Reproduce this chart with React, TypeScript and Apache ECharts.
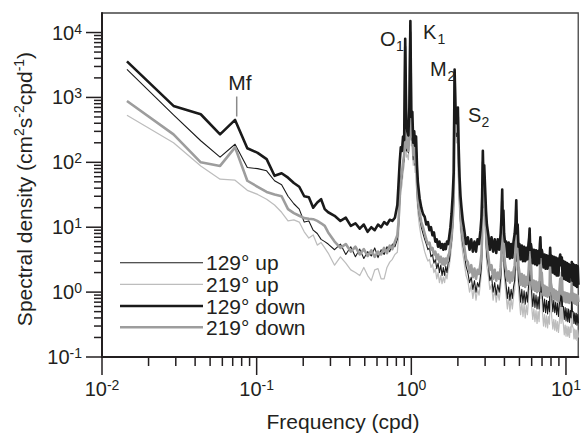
import React, { useEffect, useRef } from "react";
import * as echarts from "echarts";

// Frequency grid (cpd)
const freq = [
  0.0145, 0.029, 0.0435, 0.058, 0.0725, 0.087, 0.1015, 0.116, 0.1305, 0.145, 0.1595, 0.174, 0.1885, 0.203, 0.2175, 0.232, 0.2465, 0.261, 0.2755, 0.29,
  0.319, 0.348, 0.377, 0.406, 0.435, 0.464, 0.493, 0.522, 0.551, 0.58, 0.609, 0.638, 0.667, 0.696, 0.725, 0.754, 0.783, 0.812,
  0.826, 0.841, 0.855, 0.87, 0.884, 0.899, 0.913, 0.928, 0.942, 0.957, 0.971, 0.986, 1.0, 1.015, 1.029, 1.044, 1.058, 1.073, 1.088, 1.102,
  1.131, 1.16, 1.19, 1.22, 1.25, 1.28, 1.31, 1.34, 1.37, 1.4, 1.43, 1.46, 1.49, 1.52, 1.55, 1.58, 1.61, 1.64, 1.67, 1.7, 1.73, 1.76, 1.79, 1.82, 1.85, 1.88, 1.905,
  1.932, 1.96, 1.975, 2.0, 2.02, 2.05, 2.08, 2.11, 2.15,
  2.2, 2.26, 2.32, 2.38, 2.44, 2.5, 2.56, 2.62, 2.68, 2.74, 2.8, 2.84, 2.87,
  2.9, 2.93, 2.96, 3.0, 3.04, 3.08,
  3.15, 3.22, 3.3, 3.38, 3.46, 3.54, 3.62, 3.7, 3.78, 3.82,
  3.87, 3.9, 3.94, 3.98, 4.03,
  4.1, 4.18, 4.26, 4.34, 4.42, 4.5, 4.58, 4.66, 4.72,
  4.77, 4.82, 4.87, 4.93,
  5.0, 5.09, 5.18, 5.27, 5.36, 5.45, 5.54, 5.63, 5.72, 5.78,
  5.82, 5.87, 5.93,
  6.0, 6.1, 6.2, 6.3, 6.4, 6.5, 6.6, 6.7, 6.78,
  6.83, 6.9, 6.97,
  7.05, 7.16, 7.27, 7.38, 7.49, 7.6, 7.71, 7.82,
  7.9, 7.98,
  8.1, 8.22, 8.34, 8.46, 8.58, 8.7, 8.82, 8.94, 9.06, 9.18, 9.3,
  9.4, 9.5,
  9.62, 9.75, 9.88, 10.01, 10.14, 10.27, 10.4, 10.53, 10.66, 10.79,
  10.9, 11.0,
  11.13, 11.26, 11.39, 11.52, 11.65, 11.78, 11.91, 12.04,
];

// 129° up (thin black)
const up129 = [
  2700, 540, 215, 120, 190, 83, 80, 74, 52, 45, 30, 23, 19, 12, 12.5, 9, 8, 6.5, 6, 5.5,
  4.5, 5.5, 3.8, 5, 3.5, 4.6, 3.3, 4.2, 3.6, 4.8, 3.4, 4.5, 3.8, 5, 4.2, 5.5, 5, 6.5,
  10, 25, 45, 60, 90, 110, 5000, 150, 160, 140, 300, 9000, 220, 250, 110, 160, 90, 120, 40, 22,
  14, 10, 8, 6.5, 5.5, 4.5, 4.8, 3.5, 3.8, 2.8, 3.2, 2.3, 2.8, 2, 2.6, 1.8, 2.4, 1.8, 2.5, 2, 2.8, 3, 4.5, 6, 10, 25, 2000,
  400, 250, 300, 400, 80, 25, 12, 8, 5.5,
  4, 2.5, 2, 1.4, 1.7, 1.1, 1.5, 1.0, 1.4, 1.2, 1.8, 2.5, 5,
  80, 20, 40, 15, 6, 3.5,
  2.5, 1.5, 1.8, 1.0, 1.4, 0.9, 1.3, 1.0, 1.6, 2.5,
  18, 4, 7, 2.5, 1.8,
  1.3, 0.8, 1.2, 0.75, 1.1, 0.8, 1.2, 1.5, 3,
  14, 3, 4, 1.5,
  1.2, 0.7, 1.1, 0.68, 1.05, 0.65, 1.0, 0.7, 1.2, 1.8,
  5, 1.5, 1.8,
  1.0, 0.6, 0.95, 0.58, 0.9, 0.55, 0.85, 0.55, 1.1,
  3.5, 1.0, 1.2,
  0.8, 0.5, 0.78, 0.48, 0.75, 0.46, 0.72, 0.5,
  2.5, 1.0,
  0.8, 0.5, 0.75, 0.48, 0.7, 0.45, 0.68, 0.42, 0.65, 1.0, 0.6,
  1.4, 0.6,
  0.6, 0.38, 0.58, 0.36, 0.56, 0.35, 0.55, 0.34, 0.52, 0.4,
  1.0, 0.5,
  0.5, 0.33, 0.48, 0.32, 0.47, 0.31, 0.45, 0.33,
];

// 219° up (thin light gray)
const up219 = [
  530, 200, 88, 55, 53, 37, 32, 27, 22, 17, 12.5, 13, 12, 8.5, 6.8, 7.6, 5.3, 5.8, 4.8, 4,
  2.6, 3.5, 2.8, 2.2, 2.0, 1.8, 2.4, 1.8, 1.5, 2.2, 2.3, 1.6, 1.6, 2.4, 2.9, 3.2, 3.8, 4.1,
  7, 18, 35, 45, 70, 90, 4000, 120, 130, 110, 250, 8000, 180, 200, 90, 130, 70, 90, 30, 17,
  10, 7, 5.5, 4.2, 3.5, 3, 3.2, 2.4, 2.7, 2, 2.3, 1.6, 2, 1.4, 1.8, 1.35, 1.7, 1.4, 1.9, 1.6, 2.2, 2.5, 3.5, 5, 8, 18, 1500,
  300, 200, 250, 300, 60, 18, 9, 6, 4,
  2.8, 1.8, 1.5, 1.0, 1.3, 0.8, 1.2, 0.75, 1.1, 0.9, 1.4, 2, 4,
  60, 15, 30, 10, 4.5, 2.5,
  1.8, 1.1, 1.3, 0.75, 1.1, 0.7, 1.0, 0.75, 1.2, 1.8,
  12, 3, 5, 2, 1.3,
  0.9, 0.55, 0.85, 0.5, 0.8, 0.55, 0.85, 1.1, 2.2,
  9, 2.2, 3, 1.1,
  0.75, 0.45, 0.7, 0.42, 0.65, 0.4, 0.62, 0.45, 0.75, 1.2,
  3.5, 1.1, 1.3,
  0.6, 0.38, 0.55, 0.35, 0.52, 0.33, 0.5, 0.35, 0.7,
  2.5, 0.8, 0.9,
  0.48, 0.3, 0.45, 0.29, 0.43, 0.28, 0.42, 0.32,
  1.6, 0.6,
  0.4, 0.27, 0.38, 0.26, 0.37, 0.25, 0.35, 0.24, 0.34, 0.6, 0.33,
  1.0, 0.38,
  0.32, 0.22, 0.31, 0.21, 0.3, 0.21, 0.29, 0.2, 0.29, 0.24,
  0.7, 0.3,
  0.28, 0.19, 0.27, 0.19, 0.26, 0.18, 0.26, 0.2,
];

// 129° down (thick black)
const down129 = [
  3600, 740, 550, 270, 450, 165, 140, 112, 62, 68, 58, 48, 42, 30, 29, 20, 24, 27, 19, 17,
  15, 12.5, 14, 10.5, 11.5, 9.5, 11, 8.5, 10, 9, 11, 10, 12, 11, 13, 12.5, 14, 22,
  45, 100, 170, 150, 250, 220, 8000, 400, 300, 260, 700, 15000, 500, 600, 200, 300, 180, 250, 90, 50,
  28, 20, 16, 14.5, 11, 12, 9, 10, 7.5, 8.3, 6, 6.5, 5, 6, 4.8, 5.5, 4.5, 5.5, 4.6, 6, 5.5, 7.3, 10, 16, 30, 70, 2700,
  600, 400, 500, 700, 200, 60, 30, 20, 13,
  9, 5.5, 7, 4.5, 6.5, 4.2, 6, 4.2, 6.5, 5.5, 9, 14, 30,
  150, 50, 90, 40, 18, 11,
  7.5, 4.5, 7, 4.2, 6.5, 4, 6.5, 4.5, 8, 13,
  38, 11, 18, 8, 6,
  6, 3.5, 5.8, 3.3, 5.5, 3.4, 6, 8, 12,
  26, 8, 11, 5,
  5.5, 3.2, 5.2, 3, 5, 3, 4.8, 3.2, 5.5, 7,
  9.5, 4.5, 5.5,
  4.6, 2.8, 4.5, 2.7, 4.4, 2.6, 4.3, 2.8, 5.5,
  7, 3.5, 4.5,
  3.9, 2.4, 3.8, 2.3, 3.7, 2.3, 3.6, 2.6,
  4.8, 2.6,
  3.6, 2.0, 3.5, 1.9, 3.4, 1.8, 3.3, 1.8, 3.2, 3.8, 2.6,
  3.4, 1.8,
  3.0, 1.6, 2.9, 1.55, 2.8, 1.5, 2.7, 1.45, 2.6, 1.8,
  2.9, 1.5,
  2.7, 1.3, 2.6, 1.25, 2.6, 1.2, 2.5, 1.3,
];

// 219° down (thick gray)
const down219 = [
  880, 270, 100, 88, 170, 52, 42, 35, 32, 30, 19, 16.5, 15, 13.8, 13.5, 13.3, 12.5, 11.5, 10.5, 8.3,
  6, 4.8, 5.5, 4.2, 5, 3.8, 4.6, 3.6, 4.4, 3.5, 4.2, 3.8, 4.8, 4, 5.2, 4.6, 6, 7.5,
  12, 30, 55, 70, 100, 130, 6000, 170, 180, 150, 350, 10000, 250, 280, 130, 180, 100, 140, 45, 27,
  17, 12, 10, 8, 6.5, 5.5, 5.8, 4.5, 4.8, 3.8, 4.2, 3.2, 3.8, 2.9, 3.5, 2.7, 3.3, 2.6, 3.3, 2.8, 3.6, 4, 5.5, 7.5, 12, 30, 2200,
  450, 300, 380, 500, 100, 35, 16, 10, 7,
  5, 3.2, 2.9, 2.0, 2.6, 1.7, 2.3, 1.6, 2.2, 1.9, 2.8, 3.8, 7,
  100, 30, 60, 22, 9, 5,
  3.5, 2.2, 2.6, 1.6, 2.2, 1.5, 2.0, 1.6, 2.4, 3.5,
  25, 6, 10, 4, 2.8,
  2.2, 1.5, 2.1, 1.4, 2.0, 1.5, 2.1, 2.6, 4.5,
  18, 4.5, 6, 2.5,
  2, 1.3, 1.9, 1.25, 1.8, 1.2, 1.7, 1.3, 2, 3,
  7, 2.5, 3,
  1.6, 1.1, 1.5, 1.05, 1.45, 1.0, 1.4, 1.05, 1.8,
  5, 1.8, 2,
  1.3, 0.9, 1.25, 0.88, 1.2, 0.85, 1.15, 0.9,
  3.2, 1.4,
  1.15, 0.8, 1.1, 0.78, 1.05, 0.75, 1.0, 0.72, 1.0, 1.6, 0.95,
  2, 0.9,
  1.0, 0.72, 0.98, 0.7, 0.96, 0.7, 0.94, 0.68, 0.92, 0.75,
  1.5, 0.75,
  0.95, 0.68, 0.92, 0.66, 0.9, 0.64, 0.88, 0.7,
];

const seriesNames = ["129° up", "219° up", "129° down", "219° down"];
const xMajorTicks = [0.01, 0.1, 1, 10];
const xMinorTicks = [0.02, 0.03, 0.04, 0.05, 0.06, 0.07, 0.08, 0.09, 0.2, 0.3, 0.4, 0.5, 0.6, 0.7, 0.8, 0.9, 2, 3, 4, 5, 6, 7, 8, 9];
const yMajorTicks = [0.1, 1, 10, 100, 1000, 10000];
const yMinorTicks = [
  0.2, 0.3, 0.4, 0.5, 0.6, 0.7, 0.8, 0.9, 2, 3, 4, 5, 6, 7, 8, 9,
  20, 30, 40, 50, 60, 70, 80, 90, 200, 300, 400, 500, 600, 700, 800, 900,
  2000, 3000, 4000, 5000, 6000, 7000, 8000, 9000,
];
const peakNames = [
  { base: "O", sub: "1" },
  { base: "K", sub: "1" },
  { base: "M", sub: "2" },
  { base: "S", sub: "2" },
];
const xTitle = "Frequency (cpd)";

const FONT = '"Liberation Sans", Arial, Helvetica, sans-serif';
const INK = "#231f20";

const seriesStyle: Record<string, { color: string; width: number }> = {
  "129° up": { color: "#1a1a1a", width: 1.1 },
  "219° up": { color: "#bdbdbd", width: 1.25 },
  "129° down": { color: "#1a1a1a", width: 2.6 },
  "219° down": { color: "#9d9d9d", width: 2.6 },
};
const seriesValues: Record<string, number[]> = {
  "129° up": up129,
  "219° up": up219,
  "129° down": down129,
  "219° down": down219,
};

function pairs(vals: number[]) {
  const out: number[][] = [];
  const n = Math.min(freq.length, vals.length);
  for (let i = 0; i < n; i++) out.push([freq[i], vals[i]]);
  return out;
}

function txt(x: number, y: number, text: string, size: number, align = "left", color = INK) {
  return {
    type: "text",
    x,
    y,
    silent: true,
    z: 100,
    style: {
      text,
      fill: color,
      fontSize: size,
      fontFamily: FONT,
      align,
      textAlign: align,
      verticalAlign: "middle",
      textVerticalAlign: "middle",
    },
  };
}

export default function App() {
  const ref = useRef<HTMLDivElement>(null);
  useEffect(() => {
    if (!ref.current) return;
    const chart = echarts.init(ref.current, null, { renderer: "svg" });

    const labelFmt = (v: number) => {
      const e = Math.log10(v);
      const r = Math.round(e);
      if (Math.abs(e - r) > 1e-6) return "";
      return `{b|10}{s|${r}}`;
    };
    const labelRich = {
      b: { fontSize: 20, lineHeight: 22, color: INK, fontFamily: FONT },
      s: { fontSize: 14, lineHeight: 10, verticalAlign: "top", color: INK, fontFamily: FONT },
    };

    const tickData = [
      ...xMajorTicks.map((v) => [v, 0.1, 0, 1]),
      ...xMinorTicks.map((v) => [v, 0.1, 0, 0]),
      ...yMajorTicks.map((v) => [0.01, v, 1, 1]),
      ...yMinorTicks.map((v) => [0.01, v, 1, 0]),
    ];

    const drawOrder = ["219° up", "129° up", "219° down", "129° down"];
    const lineSeries = drawOrder.map((name) => ({
      name,
      type: "line",
      data: pairs(seriesValues[name]),
      showSymbol: false,
      symbol: "none",
      silent: true,
      lineStyle: { color: seriesStyle[name].color, width: seriesStyle[name].width, join: "round" },
      z: 2,
    }));

    const legendY = [262.7, 284.3, 306, 327.3];
    const graphic: any[] = [];
    seriesNames.forEach((name, i) => {
      graphic.push({
        type: "line",
        silent: true,
        z: 100,
        shape: { x1: 120, y1: legendY[i], x2: 203, y2: legendY[i] },
        style: { stroke: seriesStyle[name].color, lineWidth: seriesStyle[name].width },
      });
      graphic.push(txt(206, legendY[i], name, 21));
    });

    // Mf annotation
    graphic.push(txt(240, 82, "Mf", 21, "center"));
    graphic.push({
      type: "line",
      silent: true,
      z: 100,
      shape: { x1: 236.7, y1: 96.5, x2: 236.7, y2: 116.5 },
      style: { stroke: "#8a8a8a", lineWidth: 1.5 },
    });
    // tidal constituent labels
    const peakPos = [
      { x: 380, y: 39, sx: 396, sy: 46 },
      { x: 423, y: 31.5, sx: 437.5, sy: 38.5 },
      { x: 430, y: 68.5, sx: 447.5, sy: 75.5 },
      { x: 468, y: 115, sx: 481.5, sy: 122 },
    ];
    peakNames.forEach((p, i) => {
      graphic.push(txt(peakPos[i].x, peakPos[i].y, p.base, 20));
      graphic.push(txt(peakPos[i].sx, peakPos[i].sy, p.sub, 14));
    });

    // axis titles
    graphic.push(txt(343, 421, xTitle, 21, "center"));
    graphic.push({
      type: "text",
      x: 24,
      y: 189,
      rotation: Math.PI / 2,
      silent: true,
      z: 100,
      style: {
        text: "{b|Spectral density (cm}{s|2}{b|s}{s|-2}{b|cpd}{s|-1}{b|)}",
        fill: INK,
        fontSize: 21,
        fontFamily: FONT,
        align: "center",
        textAlign: "center",
        verticalAlign: "middle",
        textVerticalAlign: "middle",
        rich: {
          b: { fontSize: 21, lineHeight: 24, fill: INK, fontFamily: FONT },
          s: { fontSize: 14, lineHeight: 12, verticalAlign: "top", fill: INK, fontFamily: FONT },
        },
      },
    });

    chart.setOption({
      animation: false,
      backgroundColor: "#ffffff",
      grid: {
        left: 102,
        right: 1,
        top: 13,
        bottom: 78,
        show: true,
        borderColor: "#444",
        borderWidth: 1.3,
        backgroundColor: "transparent",
      },
      xAxis: {
        type: "log",
        logBase: 10,
        min: 0.01,
        max: 12,
        axisLine: { show: true, onZero: false, lineStyle: { color: INK, width: 2 } },
        axisTick: { show: false },
        splitLine: { show: false },
        minorTick: { show: false },
        axisLabel: { formatter: labelFmt, rich: labelRich, margin: 21, showMaxLabel: true, showMinLabel: true },
      },
      yAxis: {
        type: "log",
        logBase: 10,
        min: 0.1,
        max: 20000,
        axisLine: { show: true, onZero: false, lineStyle: { color: INK, width: 2 } },
        axisTick: { show: false },
        splitLine: { show: false },
        minorTick: { show: false },
        axisLabel: { formatter: labelFmt, rich: labelRich, margin: 20 },
      },
      series: [
        ...lineSeries,
        {
          type: "custom",
          name: "ticks",
          silent: true,
          clip: false,
          z: 5,
          data: tickData,
          renderItem: (params: any, api: any) => {
            const p = api.coord([api.value(0), api.value(1)]);
            const kind = api.value(2);
            const major = api.value(3);
            if (kind === 0) {
              const len = major ? 18 : 9;
              return {
                type: "line",
                shape: { x1: p[0], y1: p[1], x2: p[0], y2: p[1] + len },
                style: { stroke: INK, lineWidth: 1.5 },
              };
            }
            const len = major ? 16 : 8;
            return {
              type: "line",
              shape: { x1: p[0], y1: p[1], x2: p[0] - len, y2: p[1] },
              style: { stroke: INK, lineWidth: 1.5 },
            };
          },
        },
      ],
      graphic,
    });
    return () => chart.dispose();
  }, []);
  return (
    <div
      ref={ref}
      style={{ position: "absolute", left: 0, top: 0, width: 584, height: 435 }}
    />
  );
}
